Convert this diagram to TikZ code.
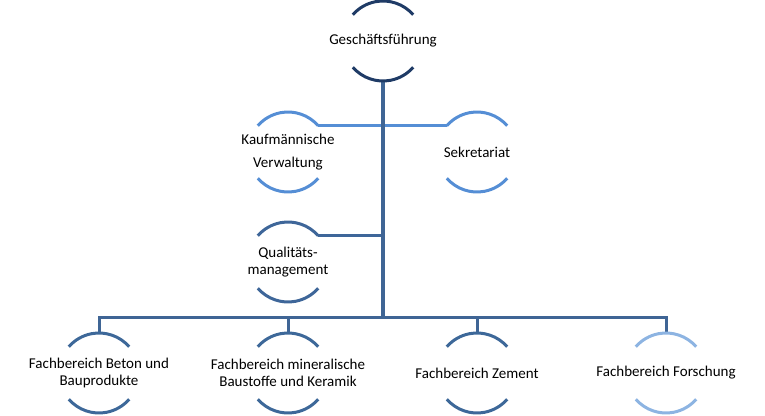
\documentclass[tikz,border=0pt]{standalone}
\usepackage{fontspec}
\setmainfont{Carlito}
\definecolor{gfcol}{HTML}{1F3B66}
\definecolor{trunkcol}{HTML}{3F6595}
\definecolor{kvcol}{HTML}{558ED5}
\definecolor{qmcol}{HTML}{3E6699}
\definecolor{fbcol}{HTML}{3D6899}
\definecolor{focol}{HTML}{8DB4E2}
\tikzset{
  unit/.style={circle, minimum size=80pt, inner sep=0pt, outer sep=0pt, draw=none},
  txt/.style={align=center, text=black, inner sep=0pt, font=\fontsize{15}{#1}\selectfont},
  txt/.default=17,
  arcline/.style={line width=3pt},
  conn/.style={line width=3pt},
}
\newcommand{\nodearcs}[2]{%
  \draw[arcline,#2] (#1.41) arc[start angle=41, end angle=139, radius=40pt];
  \draw[arcline,#2] (#1.221) arc[start angle=221, end angle=319, radius=40pt];
}
\begin{document}
\begin{tikzpicture}[x=1pt,y=-1pt]
\useasboundingbox (0,0) rectangle (765,415);
% nodes
\node[unit, label={[txt]center:Geschäftsführung}] (gf) at (383,41) {};
\node[unit, label={[txt=22.5]center:{Kaufmännische\\Verwaltung}}] (kv) at (288,152) {};
\node[unit, label={[txt]center:Sekretariat}] (sek) at (477,152) {};
\node[unit, label={[txt]center:{Qualitäts-\\management}}] (qm) at (288,262) {};
\node[unit, label={[txt=16.5]center:{Fachbereich Beton und\\Bauprodukte}}] (fb1) at (99,373) {};
\node[unit, label={[txt=16.5]center:{Fachbereich mineralische\\Baustoffe und Keramik}}] (fb2) at (288,373) {};
\node[unit, label={[txt]center:Fachbereich Zement}] (fb3) at (477,373) {};
\node[unit, label={[txt]center:Fachbereich Forschung}] (fb4) at (666,373) {};
\coordinate (bus) at (383,317);
% connectors
\draw[conn, kvcol] (kv.41) -- (sek.139);
\draw[conn, qmcol] (qm.41) -- (qm.41 -| gf.south);
\draw[conn, trunkcol, line width=3.5pt] (gf.south) -- (bus);
\draw[conn, trunkcol, line join=miter] (fb1.north) |- (fb4.north |- bus) -- (fb4.north);
\draw[conn, trunkcol] (fb2.north) -- (fb2.north |- bus);
\draw[conn, trunkcol] (fb3.north) -- (fb3.north |- bus);
% arcs
\nodearcs{gf}{gfcol}
\nodearcs{kv}{kvcol}
\nodearcs{sek}{kvcol}
\nodearcs{qm}{qmcol}
\nodearcs{fb1}{fbcol}
\nodearcs{fb2}{fbcol}
\nodearcs{fb3}{fbcol}
\nodearcs{fb4}{focol}
\end{tikzpicture}
\end{document}
